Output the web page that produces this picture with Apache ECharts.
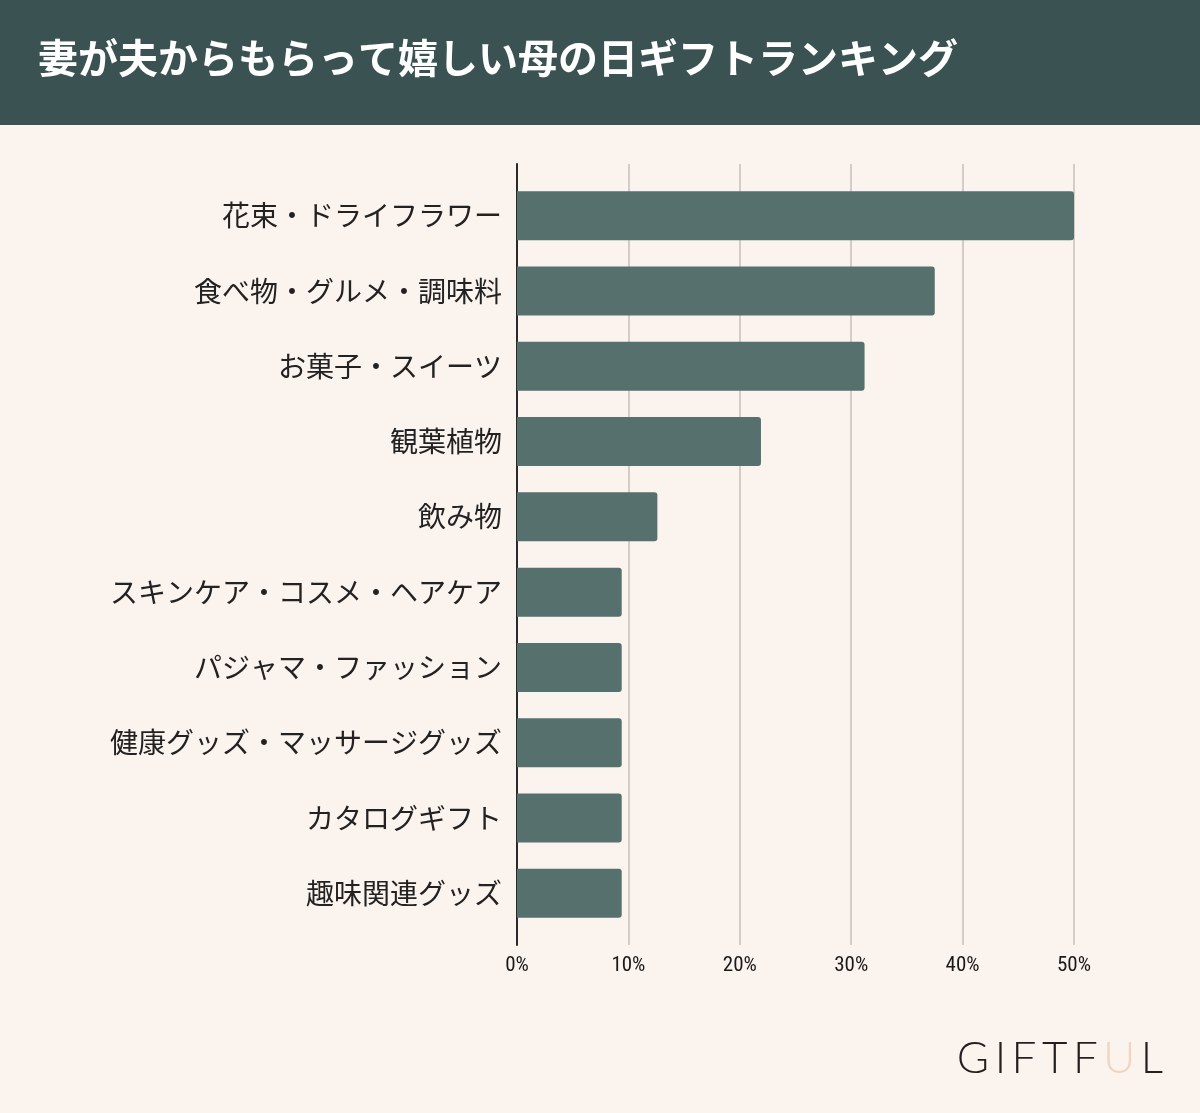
<!DOCTYPE html>
<html><head><meta charset="utf-8">
<script src="https://cdn.jsdelivr.net/npm/echarts@6/dist/echarts.min.js"></script>
<style>html,body{margin:0;padding:0;background:#FBF3EE;}#c{width:1200px;height:1113px;}</style>
</head><body><div id="c"></div>
<script>
const titleText = '妻が夫からもらって嬉しい母の日ギフトランキング';
const categories = ['花束・ドライフラワー','食べ物・グルメ・調味料','お菓子・スイーツ','観葉植物','飲み物','スキンケア・コスメ・ヘアケア','パジャマ・ファッション','健康グッズ・マッサージグッズ','カタログギフト','趣味関連グッズ'];
const values = [50, 37.5, 31.2, 21.9, 12.6, 9.4, 9.4, 9.4, 9.4, 9.4];
const xMin = 0, xMax = 50, xStep = 10;

const chart = echarts.init(document.getElementById('c'), null, {renderer:'canvas'});
const jp = '"Noto Sans CJK JP", "Noto Sans", sans-serif';
const sp = '\u2009';
chart.setOption({
  backgroundColor: '#FBF3EE',
  animation: false,
  graphic: [
    {type:'rect', left:0, top:0, shape:{width:1200, height:125}, style:{fill:'#3A5352'}, z:-1},
    {type:'text', left:38, top:38, style:{text:titleText, fill:'#FFFFFF', font:'bold 40px ' + jp}},
    {type:'text', right:37, top:1037, style:{
      text:'{a|G'+sp+'I'+sp+'F'+sp+'T'+sp+'F'+sp+'}{b|U}{a|'+sp+'L}',
      rich:{
        a:{fill:'#231F20', fontSize:44, fontFamily:'Lato, "DejaVu Sans", sans-serif', fontWeight:300},
        b:{fill:'#F2D3BC', fontSize:44, fontFamily:'Lato, "DejaVu Sans", sans-serif', fontWeight:300}
      }
    }}
  ],
  grid: [
    {left:517, right:126, top:164, bottom:168},
    {left:517, right:126, top:178, bottom:182}
  ],
  xAxis: [
    {gridIndex:0, type:'value', min:xMin, max:xMax, interval:xStep,
     axisLine:{show:false}, axisTick:{show:false},
     splitLine:{show:true, lineStyle:{color:'#D5CCC8', width:2}},
     axisLabel:{formatter:'{value}%', color:'#1A1A1A', fontSize:21, margin:10, fontFamily:'"Liberation Sans Narrow", "Roboto Condensed", "Liberation Sans", sans-serif'}},
    {gridIndex:1, type:'value', min:xMin, max:xMax, interval:xStep, show:false}
  ],
  yAxis: [
    {gridIndex:0, type:'category', data:[''], inverse:true,
     axisLine:{show:true, lineStyle:{color:'#2A2A2A', width:2}}, axisTick:{show:false}, axisLabel:{show:false}},
    {gridIndex:1, type:'category', data:categories, inverse:true,
     axisLine:{show:false}, axisTick:{show:false},
     axisLabel:{color:'#222', fontSize:28, margin:15, fontFamily:jp}}
  ],
  series: [{
    type:'bar', xAxisIndex:1, yAxisIndex:1, data:values, barWidth:49,
    itemStyle:{color:'#56706E', borderRadius:[0,3,3,0]}, z:3
  }]
});
</script></body></html>
